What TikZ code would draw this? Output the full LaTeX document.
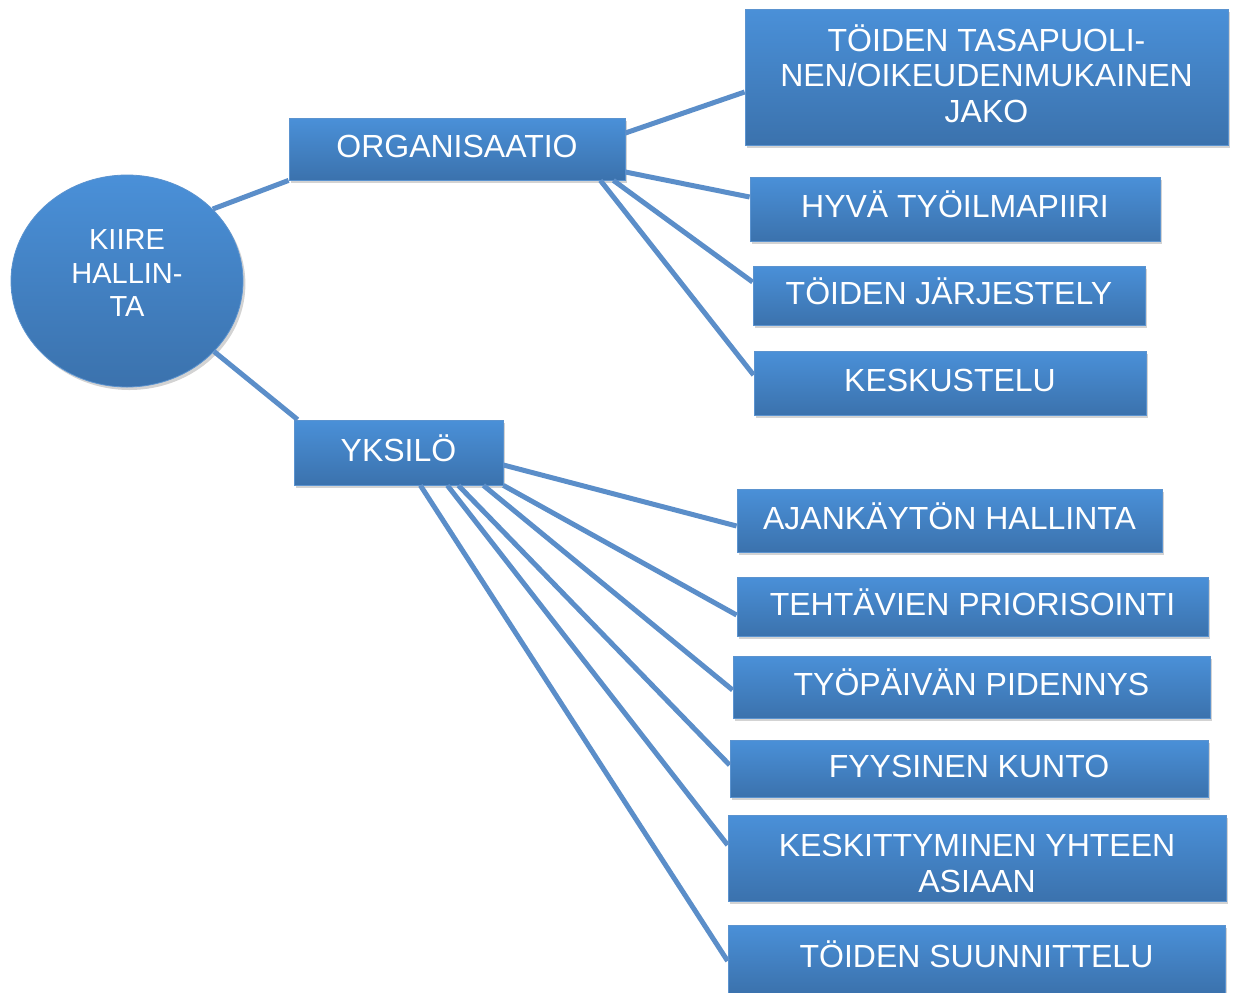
\documentclass[tikz,border=0pt]{standalone}
\usepackage{fontspec}
\setmainfont{Liberation Sans}
\usepackage{tikz}
\usetikzlibrary{shapes.geometric}
\usetikzlibrary{shadows}
\definecolor{ltop}{HTML}{4A90D8}
\definecolor{lbot}{HTML}{3B72AD}
\definecolor{ledge}{HTML}{5B93CF}
\definecolor{lline}{HTML}{5B8EC9}

\tikzset{
    topic/.style={rectangle, draw=ledge, line width=0.4pt, top color=ltop, bottom color=lbot,
        text=white, align=center, inner sep=2pt,
        drop shadow={shadow xshift=1.2pt, shadow yshift=-1.5pt, opacity=0.35},
        font=\fontsize{16}{17.75}\selectfont},
    oneline/.style={topic, text height=11.5pt, text depth=3pt},
    hub/.style={ellipse, draw=ledge, line width=0.4pt, top color=ltop, bottom color=lbot,
        text=white, align=center, inner sep=0pt, minimum width=116pt, minimum height=106pt,
        drop shadow={shadow xshift=1.2pt, shadow yshift=-1.5pt, opacity=0.35},
        font=\fontsize{14.5}{16.75}\selectfont},
    conn/.style={draw=lline, line width=2.5pt}
}

\begin{document}
\begin{tikzpicture}[x=0.5pt,y=-0.5pt]
    \useasboundingbox (0,0) rectangle (1233,992);

    \node[hub, text depth=7.5pt] (kiire) at (127,281) {KIIRE\\HALLIN-\\TA};

    \node[oneline, minimum width=168pt, minimum height=31pt] (org) at (457,149) {ORGANISAATIO};
    \node[oneline, minimum width=104.5pt, minimum height=32.5pt] (yks) at (398.5,452.5) {YKSILÖ};

    \node[topic, text depth=3.5pt, minimum width=241.5pt, minimum height=68pt] (jako) at (986.5,77) {TÖIDEN TASAPUOLI-\\NEN/OIKEUDENMUKAINEN\\JAKO};
    \node[oneline, minimum width=205pt, minimum height=32pt] (ilma) at (955,209) {HYVÄ TYÖILMAPIIRI};
    \node[oneline, minimum width=196pt, minimum height=29.5pt] (jarj) at (949,295.5) {TÖIDEN JÄRJESTELY};
    \node[oneline, minimum width=196pt, minimum height=32pt] (kesk) at (950,383) {KESKUSTELU};

    \node[oneline, minimum width=212.5pt, minimum height=31.5pt] (ajan) at (949.5,520.5) {AJANKÄYTÖN HALLINTA};
    \node[oneline, minimum width=235.5pt, minimum height=29.5pt] (prio) at (972.5,606.5) {TEHTÄVIEN PRIORISOINTI};
    \node[oneline, minimum width=238.5pt, minimum height=31pt] (pid) at (971.5,687) {TYÖPÄIVÄN PIDENNYS};
    \node[oneline, minimum width=239pt, minimum height=28.5pt] (kunto) at (969,768.5) {FYYSINEN KUNTO};
    \node[topic, text height=34.25pt, minimum width=249pt, minimum height=43pt] (keskit) at (977,858) {KESKITTYMINEN YHTEEN\\ASIAAN};
    \node[oneline, minimum width=248.5pt, minimum height=34pt] (suun) at (976.5,959) {TÖIDEN SUUNNITTELU};

    \draw[conn] (kiire.40) -- (org.south west);
    \draw[conn] (kiire.-39) -- ([xshift=2pt]yks.north west);

    \draw[conn] ([yshift=8pt]org.east) -- ([yshift=-7.5pt]jako.west);
    \draw[conn] ([yshift=-11.5pt]org.east) -- ([yshift=6pt]ilma.west);
    \draw[conn] ([xshift=-6pt]org.south east) -- ([yshift=6.75pt]jarj.west);
    \draw[conn] ([xshift=-12.5pt]org.south east) -- ([yshift=4pt]kesk.west);

    \draw[conn] ([yshift=-6.25pt]yks.east) -- ([yshift=-2.75pt]ajan.west);
    \draw[conn] (yks.south east) -- ([yshift=-4.25pt]prio.west);
    \draw[conn] ([xshift=-10pt]yks.south east) -- ([yshift=-1.5pt]pid.west);
    \draw[conn] ([xshift=-22.5pt]yks.south east) -- ([yshift=1.75pt]kunto.west);
    \draw[conn] ([xshift=-28pt]yks.south east) -- ([yshift=6.5pt]keskit.west);
    \draw[conn] ([xshift=-41.5pt]yks.south east) -- ([yshift=-1pt]suun.west);
\end{tikzpicture}
\end{document}
